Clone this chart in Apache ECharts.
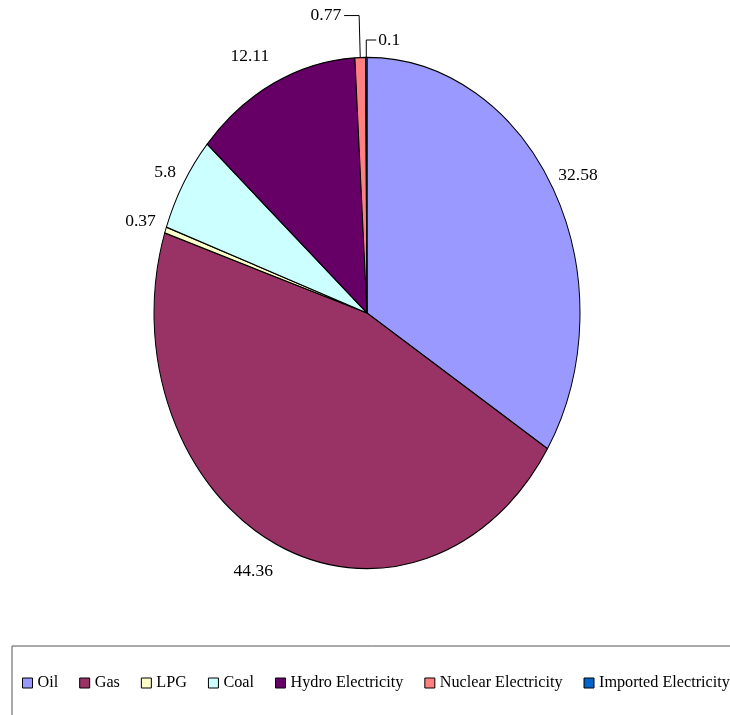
<!DOCTYPE html>
<html><head><meta charset="utf-8">
<script src="https://cdn.jsdelivr.net/npm/echarts@6/dist/echarts.min.js"></script>
<style>
html,body{margin:0;padding:0;background:#fff;}
#wrap{position:relative;width:730px;height:715px;overflow:hidden;}
#pie{position:absolute;left:0;top:0;width:730px;height:715px;transform:scaleY(1.2);transform-origin:367px 313px;}
#top{position:absolute;left:0;top:0;width:730px;height:715px;}
</style></head>
<body>
<div id="wrap"><div id="pie"></div><div id="top"></div></div>
<script>
const categories = ['Oil','Gas','LPG','Coal','Hydro Electricity','Nuclear Electricity','Imported Electricity'];
const values = [32.58, 44.36, 0.37, 5.8, 12.11, 0.77, 0.1];
const colors = ['#9999FF','#993366','#FFFFCC','#CCFFFF','#660066','#FF8080','#0066CC'];

const CX = 367, CY = 313, R = 213, SY = 1.2;
const FONT = '"Liberation Serif", "Times New Roman", serif';

const pieChart = echarts.init(document.getElementById('pie'), null, {renderer:'svg'});
pieChart.setOption({
  animation:false,
  series:[{
    type:'pie', center:[CX, CY], radius:R, startAngle:90, clockwise:true, silent:true,
    label:{show:false}, labelLine:{show:false},
    itemStyle:{borderColor:'#000', borderWidth:1},
    data: categories.map((n,i)=>({name:n, value:values[i], itemStyle:{color:colors[i]}}))
  }]
});

// label placement (leader line lengths; only the two small slices show their lines)
const lineOpts = {
  'Oil': {show:false, length:24, length2:-19},
  'Gas': {show:false, length:24.6, length2:-10},
  'LPG': {show:false, length:23, length2:-15},
  'Coal': {show:false, length:18.5, length2:-11.5},
  'Hydro Electricity': {show:false, length:24.4, length2:-9},
  'Nuclear Electricity': {show:true, length:35, length2:15},
  'Imported Electricity': {show:true, length:14.5, length2:10}
};

const topChart = echarts.init(document.getElementById('top'));
topChart.setOption({
  animation:false,
  legend:{
    left:12, top:646, width:740, orient:'horizontal',
    padding:[29, 12, 30, 10],
    borderColor:'#555', borderWidth:1,
    icon:'rect', itemWidth:10, itemHeight:10, itemGap:21,
    textStyle:{fontFamily:FONT, fontSize:16.2, color:'#000'},
    data: categories.map((n,i)=>({name:n, itemStyle:{color:colors[i], borderColor:'#000', borderWidth:1, opacity:1}}))
  },
  series:[{
    type:'pie', center:[CX, CY], radius:R, startAngle:90, clockwise:true,
    avoidLabelOverlap:false,
    itemStyle:{color:'rgba(0,0,0,0)', borderWidth:0},
    label:{show:true, position:'outside', formatter:'{c}', fontFamily:FONT, fontSize:17.5, color:'#000', distanceToLabelLine:3},
    labelLine:{show:false, length:8, length2:3, lineStyle:{color:'#000', width:1}},
    emphasis:{disabled:true},
    labelLayout:function(p){
      const r = p.labelRect;
      const mid = r.y + r.height/2;
      const delta = (mid - CY)*(SY-1);
      let base = r.y;
      if (p.verticalAlign === 'middle') base = mid;
      else if (p.verticalAlign === 'bottom') base = r.y + r.height;
      const out = {y: base + delta};
      if (p.labelLinePoints) {
        let pts = p.labelLinePoints.map(pt=>[pt[0], CY + (pt[1]-CY)*SY]);
        if (categories[p.dataIndex] === 'Imported Electricity') {
          const x1 = pts[1][0], x2 = pts[2][0];
          const nx2 = x1 + (x1 - x2);
          pts[2] = [nx2, pts[2][1]];
          out.x = nx2 + 2;
          out.align = 'left';
        }
        out.labelLinePoints = pts;
      }
      return out;
    },
    data: categories.map((n,i)=>({name:n, value:values[i], labelLine:lineOpts[n]}))
  }]
});
</script>
</body></html>
